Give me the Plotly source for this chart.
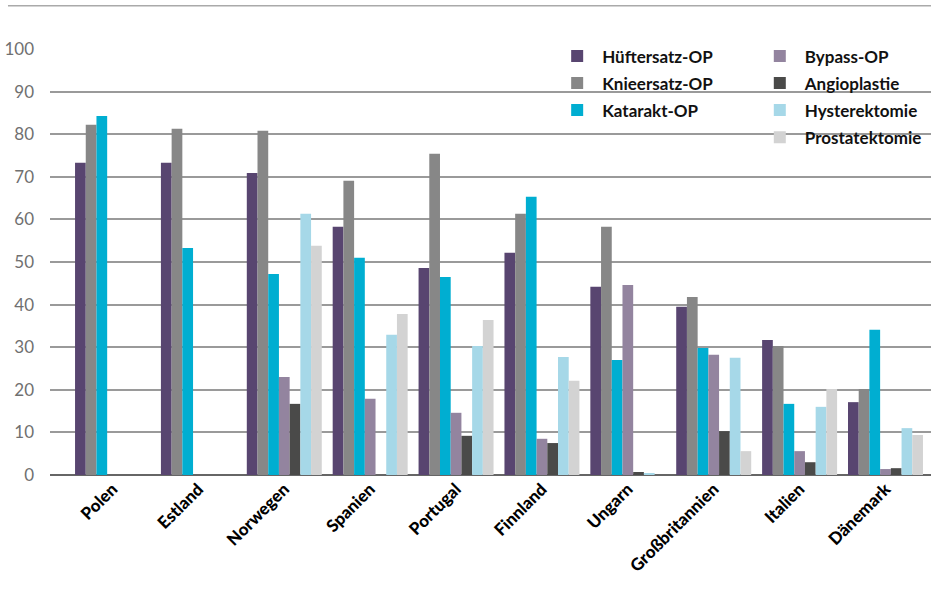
import plotly.graph_objects as go

countries = ["Polen", "Estland", "Norwegen", "Spanien", "Portugal", "Finnland",
             "Ungarn", "Großbritannien", "Italien", "Dänemark"]

hueft = [73.3, 73.3, 70.9, 58.3, 48.6, 52.2, 44.2, 39.5, 31.7, 17.1]
knie = [82.2, 81.3, 80.8, 69.1, 75.4, 61.3, 58.3, 41.8, 30.3, 20.2]
katarakt = [84.3, 53.3, 47.2, 51.0, 46.5, 65.3, 27.0, 29.8, 16.7, 34.1]
bypass = [None, None, 23.0, 17.9, 14.6, 8.5, 44.6, 28.2, 5.6, 1.4]
angio = [None, None, 16.7, None, 9.2, 7.5, 0.7, 10.3, 3.0, 1.6]
hyster = [None, None, 61.3, 32.9, 30.3, 27.7, 0.3, 27.5, 16.0, 11.0]
prost = [None, None, 53.8, 37.8, 36.4, 22.1, None, 5.6, 20.2, 9.4]

series = [
    ("Hüftersatz-OP", hueft, "#584570", "legend"),
    ("Knieersatz-OP", knie, "#878787", "legend"),
    ("Katarakt-OP", katarakt, "#00AED1", "legend"),
    ("Bypass-OP", bypass, "#93849F", "legend2"),
    ("Angioplastie", angio, "#4A4A49", "legend2"),
    ("Hysterektomie", hyster, "#A6D8E8", "legend2"),
    ("Prostatektomie", prost, "#D3D3D3", "legend2"),
]

fig = go.Figure()
for name, vals, color, leg in series:
    fig.add_trace(go.Bar(
        x=countries, y=vals, name=name, marker_color=color,
        marker_line_width=0, legend=leg, legendgroup=name,
    ))

legfont = dict(family="Lato", size=17, color="#111111", weight="bold")

fig.update_layout(
    width=931, height=594,
    margin=dict(l=50, r=0, t=49, b=119),
    paper_bgcolor="white", plot_bgcolor="white",
    barmode="group", bargap=0.127, bargroupgap=0,
    font=dict(family="Lato"),
    legend=dict(x=0.57, y=1.025, xanchor="left", yanchor="top",
                font=legfont, tracegroupgap=2, itemwidth=40,
                bgcolor="rgba(0,0,0,0)"),
    legend2=dict(x=0.80, y=1.025, xanchor="left", yanchor="top",
                 font=legfont, tracegroupgap=2, itemwidth=40,
                 bgcolor="rgba(0,0,0,0)"),
    xaxis=dict(
        range=[-0.728, 9.53], tickangle=-45, showgrid=False, ticks="",
        tickfont=dict(family="Lato", size=17, color="#000000", weight=900),
        showline=False, zeroline=False,
    ),
    yaxis=dict(
        range=[0, 100], dtick=10, showgrid=True, gridcolor="#9a9a9a",
        gridwidth=1.5, zeroline=True, zerolinecolor="#666666", zerolinewidth=2,
        tickfont=dict(family="Lato", size=17, color="#707070"),
        ticks="", ticklabelstandoff=15, showline=False,
    ),
    shapes=[dict(type="line", xref="paper", yref="paper",
                 x0=-0.0477, x1=1, y0=1.1017, y1=1.1017,
                 line=dict(color="#aaaaaa", width=1.5))],
)

fig.write_html("out.html", config={"displayModeBar": False},
               post_script="document.body.style.margin='0';window.dispatchEvent(new Event('resize'));")
